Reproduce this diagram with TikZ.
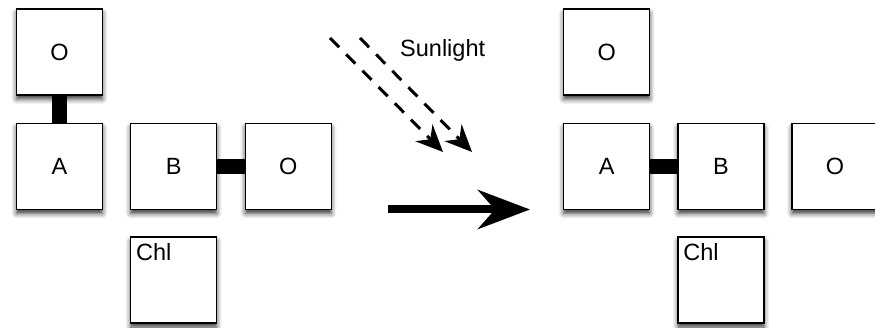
\documentclass[tikz,border=0pt]{standalone}
\usepackage{fontspec}
\setmainfont{Liberation Sans}
\usetikzlibrary{arrows.meta,shadows.blur}
\begin{document}
\begin{tikzpicture}[x=1pt,y=-1pt,
  box/.style={draw, line width=1.5pt, fill=white, minimum size=86pt, inner sep=0pt,
    font=\fontsize{23.5}{27}\selectfont,
    blur shadow={shadow xshift=0pt, shadow yshift=-4pt, shadow blur radius=5pt, shadow opacity=80}},
  bond/.style={line width=15pt},
  ray/.style={line width=3pt, dash pattern=on 13pt off 10pt, -{Stealth[length=27pt, width=24pt, inset=9pt]}},
  react/.style={line width=8pt, -{Stealth[length=52pt, width=39pt, inset=17pt]}},
  chl/.style={label={[anchor=north west, inner sep=0pt, xshift=6pt, yshift=-7pt, font=\fontsize{23.5}{27}\selectfont]north west:Chl}}
]
\useasboundingbox (0,0) rectangle (875,328);
% left panel
\node[box] (O1) at (59.5,52) {O};
\node[box] (A1) at (59.5,166.5) {A};
\node[box] (B1) at (173.7,166.5) {B};
\node[box] (O2) at (288.3,166.5) {O};
\node[box,chl] (C1) at (173.7,280) {};
\draw[bond] (O1.south) -- (A1.north);
\draw[bond] (B1.east) -- (O2.west);
% right panel
\node[box] (O3) at (606.7,52) {O};
\node[box] (A2) at (606.7,166.5) {A};
\node[box] (B2) at (721,166.5) {B};
\node[box] (O4) at (835,166.5) {O};
\node[box,chl] (C2) at (721,280) {};
\draw[bond] (A2.east) -- (B2.west);
% sunlight
\coordinate (s1) at (330,38);
\coordinate (e1) at (443,152);
\coordinate (s2) at (360,38);
\coordinate (e2) at (472,152);
\draw[ray] (s1) -- (e1);
\draw[ray] (s2) -- (e2);
\node[anchor=base west, inner sep=0pt, font=\fontsize{23.5}{27}\selectfont] (sun) at (400,57) {Sunlight};
% reaction arrow
\coordinate (r1) at (388,209.5);
\coordinate (r2) at (530,209.5);
\draw[react] (r1) -- (r2);
\end{tikzpicture}
\end{document}
